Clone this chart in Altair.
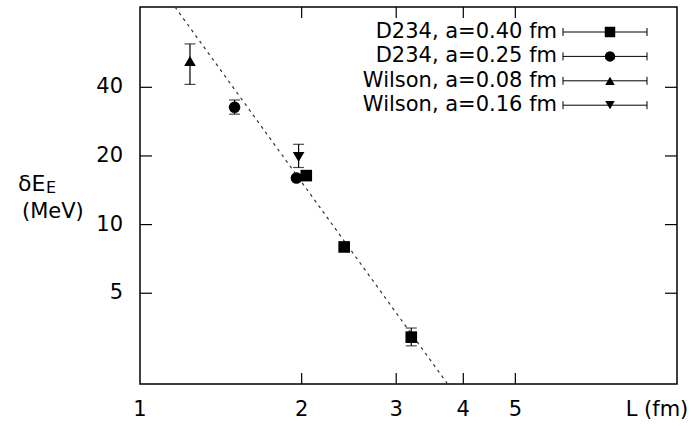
import altair as alt
import pandas as pd

# ---------------- data ----------------
series = ["D234, a=0.40 fm", "D234, a=0.25 fm", "Wilson, a=0.08 fm", "Wilson, a=0.16 fm"]
shapes = ["square", "circle", "triangle-up", "triangle-down"]

sq_L = [2.04, 2.40, 3.20]
sq_E = [16.4, 7.98, 3.21]
sq_lo = [16.1, 7.85, 2.94]
sq_hi = [16.7, 8.10, 3.52]

ci_L = [1.50, 1.956]
ci_E = [32.7, 16.0]
ci_lo = [30.5, 15.7]
ci_hi = [35.2, 16.3]

tu_L = [1.239]
tu_E = [52.2]
tu_lo = [41.2]
tu_hi = [62.0]

td_L = [1.974]
td_E = [19.8]
td_lo = [17.8]
td_hi = [22.5]

fit_L = [1.162, 3.74]
fit_E = [90.0, 2.0]

x_ticks = [1, 2, 3, 4, 5]
y_ticks = [5, 10, 20, 40]
x_minor = [2, 3, 4, 5]

# ---------------- layout ----------------
W, H = 537, 377
FONT = "DejaVu Sans"
FS = 21

xs = alt.Scale(type="log", domain=[1, 10], nice=False)
ys = alt.Scale(type="log", domain=[2, 90], nice=False)

rows = []
for name, Ls, Es, los, his in [
    (series[1], ci_L, ci_E, ci_lo, ci_hi),
    (series[2], tu_L, tu_E, tu_lo, tu_hi),
    (series[3], td_L, td_E, td_lo, td_hi),
    (series[0], sq_L, sq_E, sq_lo, sq_hi),
]:
    for L, E, lo, hi in zip(Ls, Es, los, his):
        rows.append({"series": name, "L": L, "E": E, "lo": lo, "hi": hi})
df = pd.DataFrame(rows)

fit_df = pd.DataFrame({"L": fit_L, "E": fit_E})

fit = alt.Chart(fit_df).mark_line(
    color="#333333", strokeWidth=1.2, strokeDash=[3, 4], clip=True
).encode(
    x=alt.X("L:Q", scale=xs, axis=None),
    y=alt.Y("E:Q", scale=ys, axis=None),
)

err = alt.Chart(df).mark_rule(color="black", strokeWidth=1.2).encode(
    x=alt.X("L:Q", scale=xs, axis=None),
    y=alt.Y("lo:Q", scale=ys, axis=None),
    y2="hi:Q",
)
cap_lo = alt.Chart(df).mark_tick(orient="horizontal", color="black", size=11, thickness=1.2).encode(
    x=alt.X("L:Q", scale=xs, axis=None),
    y=alt.Y("lo:Q", scale=ys, axis=None),
)
cap_hi = alt.Chart(df).mark_tick(orient="horizontal", color="black", size=11, thickness=1.2).encode(
    x=alt.X("L:Q", scale=xs, axis=None),
    y=alt.Y("hi:Q", scale=ys, axis=None),
)

pts = alt.Chart(df).mark_point(filled=True, opacity=1, color="black", size=135).encode(
    x=alt.X("L:Q", scale=xs, axis=None),
    y=alt.Y("E:Q", scale=ys, axis=None),
    shape=alt.Shape("series:N", scale=alt.Scale(domain=series, range=shapes), legend=None),
)

# inward ticks on all four sides
xt = pd.DataFrame({"v": x_minor})
yt = pd.DataFrame({"v": y_ticks})
tick_b = alt.Chart(xt).mark_rule(color="black", strokeWidth=1.2).encode(
    x=alt.X("v:Q", scale=xs, axis=None), y=alt.value(H), y2=alt.value(H - 11))
tick_t = alt.Chart(xt).mark_rule(color="black", strokeWidth=1.2).encode(
    x=alt.X("v:Q", scale=xs, axis=None), y=alt.value(0), y2=alt.value(11))
tick_l = alt.Chart(yt).mark_rule(color="black", strokeWidth=1.2).encode(
    y=alt.Y("v:Q", scale=ys, axis=None), x=alt.value(0), x2=alt.value(12))
tick_r = alt.Chart(yt).mark_rule(color="black", strokeWidth=1.2).encode(
    y=alt.Y("v:Q", scale=ys, axis=None), x=alt.value(W), x2=alt.value(W - 12))

# tick labels placed through the scales
xl = pd.DataFrame({"v": x_ticks, "t": [str(v) for v in x_ticks]})
yl = pd.DataFrame({"v": y_ticks, "t": [str(v) for v in y_ticks]})
lab_x = alt.Chart(xl).mark_text(align="center", baseline="middle", fontSize=FS, color="black").encode(
    x=alt.X("v:Q", scale=xs, axis=None), y=alt.value(H + 26), text="t:N")
lab_y = alt.Chart(yl).mark_text(align="right", baseline="middle", fontSize=FS, color="black").encode(
    y=alt.Y("v:Q", scale=ys, axis=None), x=alt.value(-17), text="t:N")

x_title = alt.Chart(pd.DataFrame({"t": ["L (fm)"]})).mark_text(
    align="center", baseline="middle", fontSize=FS, color="black").encode(
    text="t:N", x=alt.value(517), y=alt.value(H + 26))

# y-axis title: δE_E (MeV)
yt1 = alt.Chart(pd.DataFrame({"t": ["δE"]})).mark_text(
    align="left", baseline="middle", fontSize=22, color="black").encode(
    text="t:N", x=alt.value(-122), y=alt.value(177))
yt2 = alt.Chart(pd.DataFrame({"t": ["E"]})).mark_text(
    align="left", baseline="middle", fontSize=16, color="black").encode(
    text="t:N", x=alt.value(-94), y=alt.value(181))
yt3 = alt.Chart(pd.DataFrame({"t": ["(MeV)"]})).mark_text(
    align="left", baseline="middle", fontSize=FS, color="black").encode(
    text="t:N", x=alt.value(-118), y=alt.value(205))

# legend drawn inside the plot, labels left of the samples
leg_layers = []
leg_sizes = [110, 110, 90, 90]
for i, name in enumerate(series):
    yy = 25 + 24.4 * i
    d = pd.DataFrame({"label": [name]})
    leg_layers.append(alt.Chart(d).mark_text(
        align="right", baseline="middle", fontSize=FS, color="black").encode(
        text="label:N", x=alt.value(417), y=alt.value(yy)))
    leg_layers.append(alt.Chart(d).mark_rule(color="black", strokeWidth=1).encode(
        x=alt.value(423), x2=alt.value(507), y=alt.value(yy)))
    leg_layers.append(alt.Chart(d).mark_rule(color="black", strokeWidth=1).encode(
        x=alt.value(423), y=alt.value(yy - 4), y2=alt.value(yy + 4)))
    leg_layers.append(alt.Chart(d).mark_rule(color="black", strokeWidth=1).encode(
        x=alt.value(507), y=alt.value(yy - 4), y2=alt.value(yy + 4)))
    leg_layers.append(alt.Chart(d).mark_point(
        filled=True, opacity=1, color="black", shape=shapes[i], size=leg_sizes[i]).encode(
        x=alt.value(470), y=alt.value(yy)))

chart = alt.layer(
    fit, err, cap_lo, cap_hi, pts,
    tick_b, tick_t, tick_l, tick_r,
    lab_x, lab_y, x_title,
    yt1, yt2, yt3, *leg_layers,
).properties(
    width=W, height=H,
    padding={"left": 140, "top": 7, "right": 19, "bottom": 42},
    autosize=alt.AutoSizeParams(type="none"),
    background="white",
).configure(font=FONT).configure_view(stroke="black", strokeWidth=1.5)

chart.save("out.html", embed_options={"renderer": "svg", "actions": False})
